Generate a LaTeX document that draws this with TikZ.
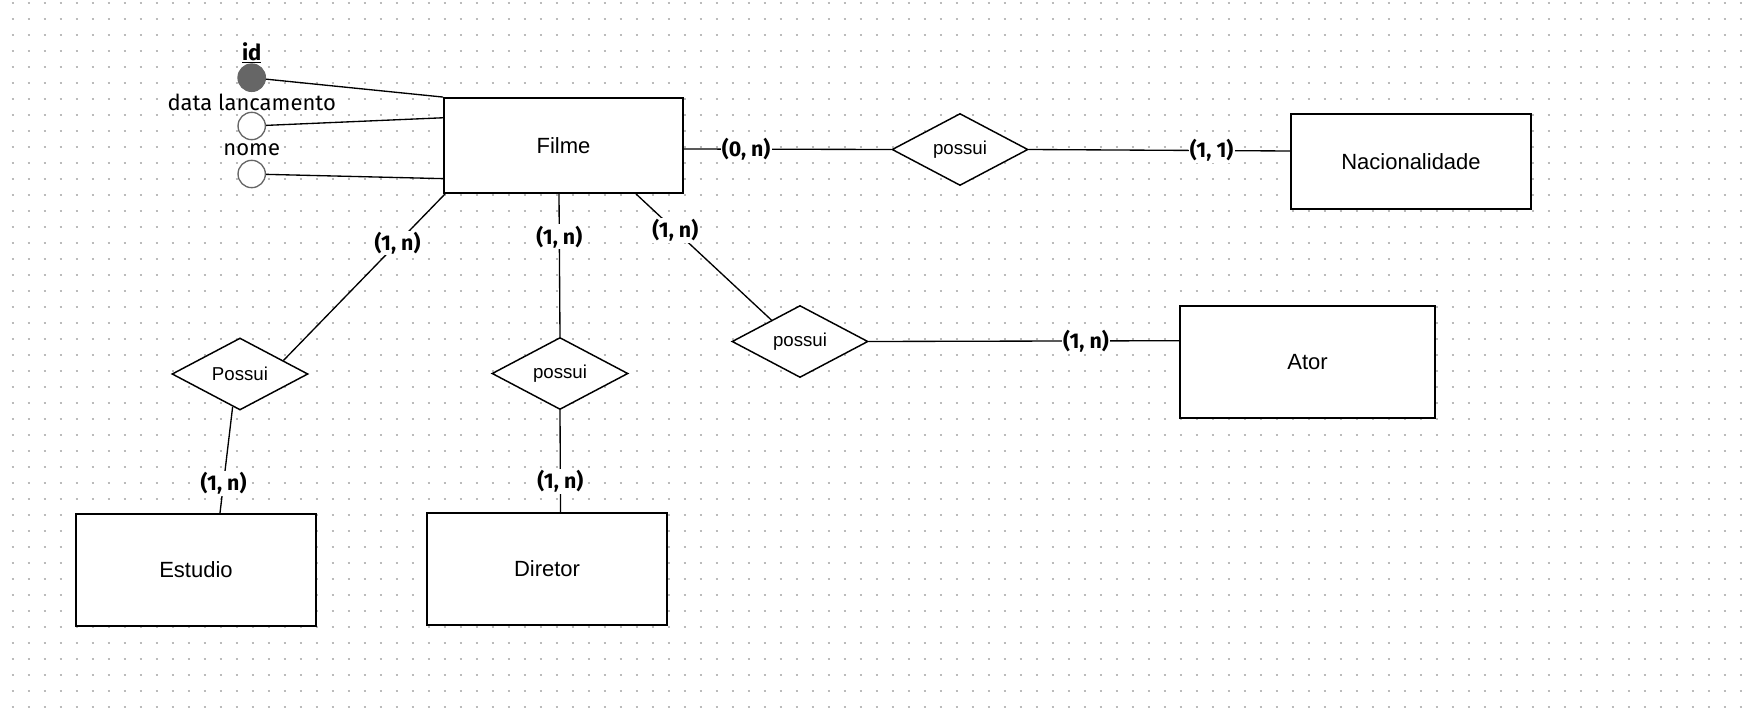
\documentclass[tikz,border=0pt]{standalone}
\usepackage{fontspec}
\setmainfont{Liberation Sans}
\newfontfamily\fira{Fira Sans}
\usetikzlibrary{shapes.geometric,calc}
\definecolor{dotc}{HTML}{BBBBBB}
\definecolor{attrc}{HTML}{666666}
\tikzset{
  entity/.style={draw, line width=1.4pt, fill=white, inner sep=0pt,
    font=\fontsize{16.5}{20}\selectfont},
  rel/.style={diamond, draw, line width=1.1pt, fill=white, aspect=1.9, inner sep=0pt,
    minimum width=102pt, minimum height=54pt, font=\fontsize{14}{16}\selectfont},
  card/.style={fill=white, inner sep=1pt, font=\fira\bfseries\fontsize{16}{19}\selectfont},
  conn/.style={line width=1pt},
  attr/.style={circle, draw=attrc, line width=1pt, fill=white, minimum size=20.5pt, inner sep=0pt},
  attrlbl/.style={inner sep=0pt, font=\fira\fontsize{16.5}{19}\selectfont},
  dotrow/.style={draw=dotc, line width=1.5pt, dash pattern=on 1.5pt off 10.5pt}
}
\begin{document}
\begin{tikzpicture}[x=0.75pt, y=-0.75pt]
\useasboundingbox (0,0) rectangle (1750,714);
% dot grid
\foreach \k in {0,...,44} {
  \draw[dotrow] (11.7,{2.7+16*\k}) -- (1750,{2.7+16*\k});
}
% entities
\node[entity, minimum width=179.25pt, minimum height=71.25pt] (filme) at (563.5,145.5) {Filme};
\node[entity, minimum width=180pt, minimum height=71.25pt] (nac) at (1411,161.5) {Nacionalidade};
\node[entity, minimum width=191.25pt, minimum height=84pt] (ator) at (1307.5,362) {Ator};
\node[entity, minimum width=180pt, minimum height=84pt] (estudio) at (196,570) {Estudio};
\node[entity, minimum width=180pt, minimum height=84pt] (diretor) at (547,569) {Diretor};
% relationships
\node[rel] (rnac) at (960,149.5) {possui};
\node[rel] (rest) at (240,374) {Possui};
\node[rel] (rdir) at (560,373.5) {possui};
\node[rel] (rator) at (800,341.5) {possui};
% attributes
\node[attr, fill=attrc] (aid) at (251.7,77.7) {};
\node[attr] (adata) at (251.7,126) {};
\node[attr] (anome) at (251.7,174) {};
\node[attrlbl] (lid) at (251.7,53) {\bfseries\underline{id}};
\node[attrlbl] (ldata) at (251.7,102) {data lancamento};
\node[attrlbl] (lnome) at (251.7,150) {nome};
% attribute connectors
\draw[conn] (aid) -- (filme.north west);
\draw[conn] (adata) -- ($(filme.north west)+(0,20.7)$);
\draw[conn] (anome) -- ($(filme.south west)+(0,-15.3)$);
% relationship connectors
\draw[conn] ($(filme.east)+(0,3.5)$) -- node[card, pos=0.30] (c1) {(0, n)} (rnac.west);
\draw[conn] (rnac.east) -- node[card, pos=0.70] (c2) {(1, 1)} ($(nac.west)+(0,-10.5)$);
\draw[conn] ($(filme.south west)+(2,0)$) -- node[card, pos=0.294] (c3) {(1, n)} ($(rest.north)!0.632!(rest.east)$);
\draw[conn] ($(rest.south)!0.107!(rest.west)$) -- node[card, pos=0.72] (c4) {(1, n)} ($(estudio.north)+(24,0)$);
\draw[conn] ($(filme.south)+(-4.5,0)$) -- node[card, pos=0.30] (c5) {(1, n)} (rdir.north);
\draw[conn] (rdir.south) -- node[card, pos=0.70] (c6) {(1, n)} ($(diretor.north)+(13.5,0)$);
\draw[conn] ($(filme.south)+(72.5,0)$) -- node[card, pos=0.29] (c7) {(1, n)} ($(rator.west)!0.584!(rator.north)$);
\draw[conn] (rator.east) -- node[card, pos=0.70] (c8) {(1, n)} ($(ator.west)+(0,-21.3)$);
\end{tikzpicture}
\end{document}
